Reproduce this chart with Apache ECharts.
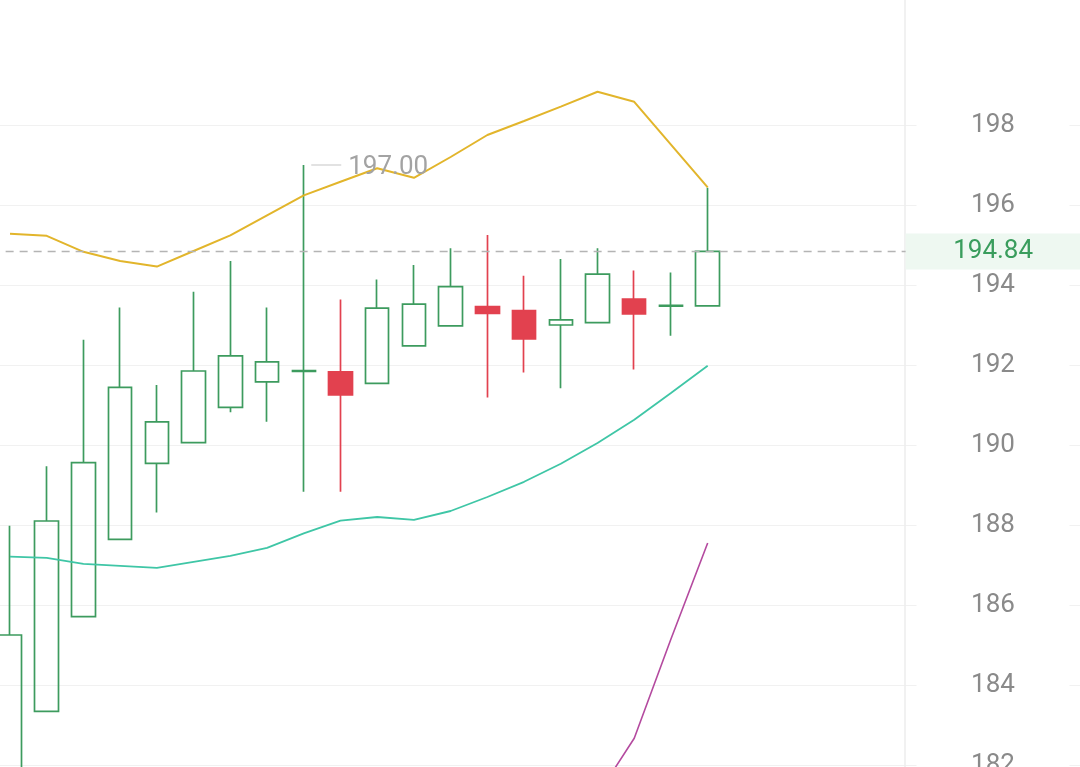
<!DOCTYPE html>
<html>
<head>
<meta charset="utf-8">
<script src="https://cdn.jsdelivr.net/npm/echarts@6/dist/echarts.min.js"></script>
<style>
html,body{margin:0;padding:0;background:#fff;}
#chart{width:1080px;height:767px;}
</style>
</head>
<body>
<div id="chart"></div>
<script>
// ---- data ----
const categories = ['K1','K2','K3','K4','K5','K6','K7','K8','K9','K10','K11','K12','K13','K14','K15','K16','K17','K18','K19','K20','K21','K22','K23','K24','K25'];
const opens  = [180.60, 183.34, 185.71, 187.64, 189.54, 190.06, 190.94, 191.58, 191.84, 191.83, 191.54, 192.48, 192.98, 193.46, 193.36, 193.00, 193.06, 193.65, 193.47, 193.48];
const closes = [185.25, 188.10, 189.56, 191.44, 190.58, 191.85, 192.23, 192.08, 191.86, 191.25, 193.42, 193.52, 193.96, 193.29, 192.65, 193.13, 194.27, 193.28, 193.49, 194.84];
const lows   = [179.80, 183.34, 185.71, 187.64, 188.31, 190.06, 190.82, 190.58, 188.83, 188.83, 191.54, 192.48, 192.98, 191.19, 191.81, 191.42, 193.06, 191.89, 192.73, 193.48];
const highs  = [187.98, 189.47, 192.63, 193.44, 191.50, 193.83, 194.60, 193.44, 197.00, 193.64, 194.14, 194.50, 194.92, 195.25, 194.23, 194.65, 194.92, 194.36, 194.31, 196.43];
const bollUpper = [195.28, 195.23, 194.83, 194.60, 194.46, 194.85, 195.24, 195.74, 196.24, 196.58, 196.92, 196.68, 197.20, 197.75, 198.10, 198.46, 198.83, 198.58, 197.51, 196.44];
const bollMid   = [187.21, 187.18, 187.03, 186.98, 186.93, 187.08, 187.23, 187.43, 187.79, 188.11, 188.20, 188.13, 188.35, 188.70, 189.08, 189.53, 190.05, 190.63, 191.30, 191.98];
const bollLower = [179.15, 179.12, 179.22, 179.35, 179.40, 179.30, 179.21, 179.12, 179.34, 179.64, 179.48, 179.57, 179.50, 179.65, 180.05, 180.59, 181.25, 182.67, 185.15, 187.55];
const yTicks = { min: 182, max: 200, step: 2 };

// ---- chart ----
const candleData = opens.map((o, i) => [o, closes[i], lows[i], highs[i]]);
const lastClose = closes[closes.length - 1];

const UP = '#3d9b5e', DOWN = '#e2414f';
const FONT = 'Roboto';
const FS = 26;
const chart = echarts.init(document.getElementById('chart'));
const option = {
  animation: false,
  backgroundColor: '#ffffff',
  grid: [
    { left: -8.36, top: 45, width: 918, bottom: 2, outerBoundsMode: 'none', containLabel: false },
    { left: 0, right: 0, top: 45, bottom: 2, outerBoundsMode: 'none', containLabel: false },
    { left: 0, right: 0, top: 0, bottom: 0, outerBoundsMode: 'none', containLabel: false }
  ],
  xAxis: [
    { type: 'category', gridIndex: 0, data: categories, boundaryGap: true, show: false },
    { type: 'value', gridIndex: 1, show: false },
    { type: 'value', gridIndex: 2, show: false }
  ],
  yAxis: [
    { type: 'value', gridIndex: 0, min: yTicks.min, max: yTicks.max, interval: yTicks.step, show: false },
    {
      type: 'value', gridIndex: 1, min: yTicks.min, max: yTicks.max, interval: yTicks.step,
      position: 'right', offset: -175,
      axisLine: { show: false, onZero: false }, axisTick: { show: false },
      splitLine: { show: true, showMaxLine: false, lineStyle: { color: '#f1f1f1', width: 1 } },
      axisLabel: {
        showMaxLabel: false, margin: 88, align: 'center', width: 153,
        backgroundColor: '#ffffff', color: '#8a8a8a', fontSize: FS,
        fontFamily: FONT, lineHeight: 28, padding: [5, 0, 0, 0]
      }
    },
    {
      type: 'value', gridIndex: 2, min: 0, max: 1, position: 'right', offset: -175,
      axisLine: { show: true, onZero: false, lineStyle: { color: '#ededed', width: 1.5 } },
      axisTick: { show: false }, axisLabel: { show: false }, splitLine: { show: false }
    }
  ],
  series: [
    {
      type: 'candlestick',
      xAxisIndex: 0, yAxisIndex: 0,
      data: candleData,
      barWidth: 24,
      itemStyle: {
        color: 'transparent', color0: DOWN,
        borderColor: UP, borderColor0: DOWN, borderWidth: 1.7
      },
      markLine: {
        silent: true, symbol: ['none', 'none'],
        lineStyle: { type: [8, 6], color: '#b4b4b4', width: 1.3 },
        label: {
          position: 'end', distance: -4,
          formatter: p => '{p|' + p.value.toFixed(2) + '}',
          rich: {
            p: {
              width: 175, height: 36, lineHeight: 41, align: 'center',
              backgroundColor: '#eef8f1', color: '#3a9d5d', fontSize: FS, fontFamily: FONT
            }
          }
        },
        data: [{ yAxis: lastClose }]
      },
      markPoint: {
        silent: true, symbol: 'circle', symbolSize: 1,
        itemStyle: { color: 'transparent' },
        label: {
          position: 'right', distance: 7,
          formatter: p => '{l|}{t|' + Number(p.value).toFixed(2) + '}',
          rich: {
            l: { width: 30, height: 1, backgroundColor: '#c4c4c4', verticalAlign: 'middle' },
            t: { padding: [5, 0, 0, 7], color: '#a3a3a3', fontSize: FS, fontFamily: FONT, verticalAlign: 'middle' }
          }
        },
        data: [{ type: 'max', valueDim: 'highest' }]
      }
    },
    {
      type: 'line', xAxisIndex: 0, yAxisIndex: 0, data: bollUpper,
      showSymbol: false, clip: false, silent: true,
      lineStyle: { color: '#e2b52b', width: 2 }
    },
    {
      type: 'line', xAxisIndex: 0, yAxisIndex: 0, data: bollMid,
      showSymbol: false, clip: false, silent: true,
      lineStyle: { color: '#3fc6a6', width: 1.8 }
    },
    {
      type: 'line', xAxisIndex: 0, yAxisIndex: 0, data: bollLower,
      showSymbol: false, clip: false, silent: true,
      lineStyle: { color: '#b44a9f', width: 1.6 }
    }
  ]
};
chart.setOption(option);
</script>
</body>
</html>
